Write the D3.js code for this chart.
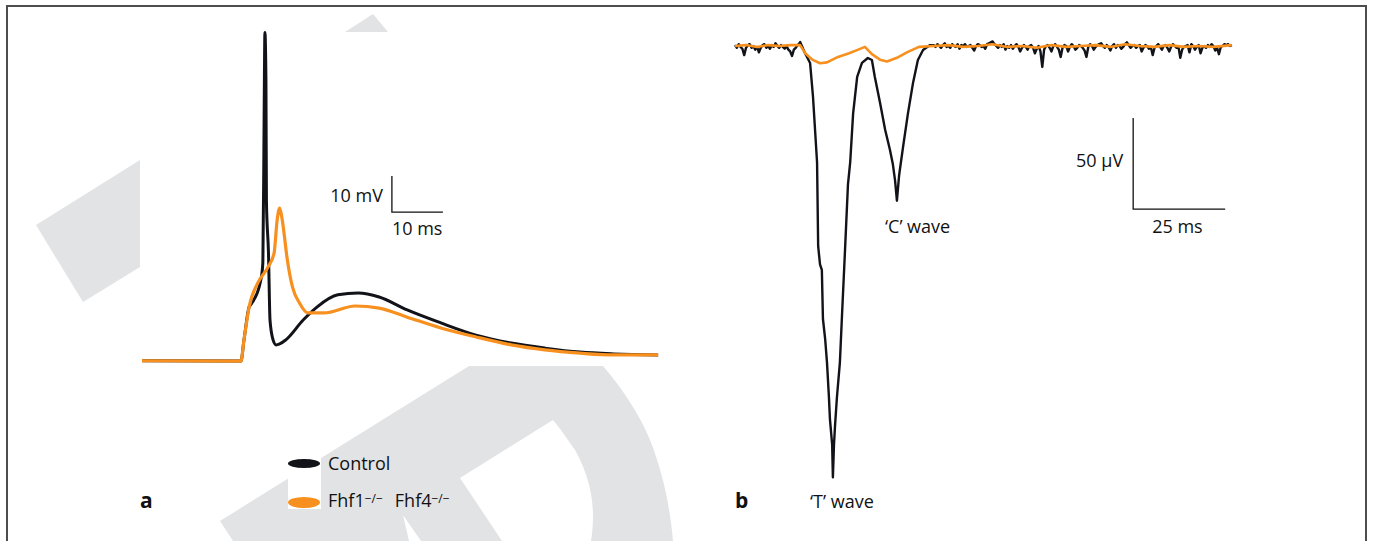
<!DOCTYPE html>
<meta charset="utf-8">
<style>
body { margin: 0; background: #fff; }
svg text { font-family: "Open Sans", sans-serif; fill: #111; }
</style>
<svg id="chart" width="1373" height="541"></svg>
<script src="https://cdn.jsdelivr.net/npm/d3@7/dist/d3.min.js"></script>
<script>

// ---- panel a : action potentials, ms vs mV above rest ----
var apCtrlT = [0, 19.4, 20, 21, 21.4, 23.4, 23.7, 23.9, 24, 24.1, 24.3, 24.4, 24.8, 25.1, 25.7, 26.3, 26.9, 28.2, 31.6, 34.3, 38.4, 42.4, 46.5, 52, 58.6, 65.5, 72.4, 79, 85.9, 92.5, 101.2];
var apCtrlV = [-0.2, -0.3, 5.6, 14.7, 15.5, 23, 27.2, 58, 78, 91, 78, 44, 29.7, 11.1, 5.6, 4.2, 4.4, 5.6, 11.1, 14.7, 18.1, 18.6, 17.5, 13.9, 10.3, 6.9, 4.7, 3.3, 2.2, 1.7, 1.4];

var apKoT = [0, 19.4, 20, 21, 22.7, 24.7, 25.9, 26.5, 27, 27.5, 28.5, 29.5, 30.9, 32.5, 35.7, 41.8, 46.5, 52, 58.6, 65.5, 72.4, 79, 85.9, 92.5, 101.2];
var apKoV = [-0.2, -0.3, 5.6, 14.7, 21.4, 25.8, 29.7, 38.9, 42.2, 38.9, 27.8, 20.3, 15.8, 13.1, 13.1, 15, 14.4, 11.9, 8.9, 6.4, 4.2, 2.8, 1.9, 1.4, 1.4];

// ---- panel b : field potentials, ms vs µV ----
// 0..17.5 ms, 0.5 ms apart
var ergCtrlHead = [0.5, -1, 1, -0.5, -1.5, -5, -1, 0.5, 1, -1, 0, -2, -0.5, -3.5, -1, 0.5, 1, -1, 0, -1.5,
  0.5, -0.5, 1.5, 0, -1, 0.5, -0.5, -1.5, 0, -2, -3, -5.5, -2, -1, 0.5, 1.5];
var ergCtrlWave = [
  [17.7, 2.2], [19, -3.8], [20.4, -9.3], [21.2, -28], [22.3, -64], [22.6, -110], [23.1, -120],
  [23.6, -123], [23.9, -150], [24.5, -161], [25, -174], [25.5, -192], [25.8, -205], [26.4, -219],
  [26.6, -237], [26.9, -219], [27.2, -208], [27.7, -193], [28.5, -174], [29.1, -147], [29.9, -112],
  [30.7, -76], [31.3, -64], [32.1, -37], [33.2, -17], [34.5, -9.3], [36.1, -6.6], [37.2, -7.7],
  [38, -17], [39.4, -31], [40.8, -46], [42.1, -57], [42.9, -65], [43.5, -74], [44, -85],
  [44.6, -71], [44.8, -68], [45.7, -55], [47, -37], [48.4, -20], [49.7, -7.7], [51.1, -2.2], [53, 0.5]
];
// 54..135 ms, 0.5 ms apart
var ergCtrlTail = [
  0.5, -0.5, 1, 0, -1, 0.5, 1.5, -0.5, 0, -1,
  1, 0, -0.5, 1, -1.5, 0.5, 0, 1, -0.5, 0,
  0.5, -1, -2.5, 0, 1, 0.5, -0.5, 0, -1.5, 1,
  1.5, 2, 2.5, 1, 0, -1, 0.5, -0.5, 1, -2,
  0, -1, 0.5, -1.5, 0, 1, -0.5, -3, -1, 0.5,
  -0.5, -2, 0, 0.5, -1, -4, -1.5, 0, -3, -11.5,
  -2, 0, 0.5, -1, -3, 0, 1, -0.5, -2, -6,
  -1, 0.5, 0, -3, -0.5, 1, 0, -2, -1, 0.5,
  0, -1, -2.5, -6, -0.5, 1, 0, -2, -0.5, 0.5,
  1, 1.5, 0, -1, 0.5, -0.5, -2.5, 0, 1, -1,
  0.5, 0, -1.5, -0.5, 1, 2, 0.5, -1, 0, 0.5,
  -1, 0, 0.5, -3, -1, 0.5, 0, -1.5, -0.5, -5,
  -1, 0, 1, -0.5, -2, 0, 0.5, -1, -3, -0.5,
  1, 0, -1, -0.5, -6.5, -2, -0.5, 0, 0.5, -3.5,
  1, 0, -2, -0.5, 0.5, -4, -1, 0, -1, 0.5,
  -0.5, 1, 0, -2.5, -1, -4.5, -0.5, 0, 1, 0.5,
  1, 0, 0.5
];
var ergKo = [
  [0, 0], [3, 0.5], [6, -0.5], [9, 0.5], [12, 0], [15, 0.5], [17.7, 0.5], [19, -3.8], [21, -7.5],
  [23.1, -9.5], [25, -9], [28, -6], [31, -4], [33.5, -2], [35.3, -0.5], [37.2, -4.5], [39.4, -7.5],
  [41.3, -8.5], [44, -6.5], [46.7, -3.5], [50, -0.5], [54, 0], [58, 0.5], [62, -0.5], [66, 0],
  [70, 1], [74, -0.5], [78, 0], [82, -1], [86, 0.5], [90, -0.5], [94, 0], [98, 0.5], [102, -0.5],
  [106, 1], [110, 0], [114, -0.5], [118, 0.5], [122, -0.5], [126, 0], [130, -0.5], [135, 0.5]
];

var black = "#121319", orange = "#f7901e", grey = "#e2e3e5";

var svg = d3.select("#chart");

// watermark behind the figure
var wm = svg.append("g");
wm.append("path").attr("fill", grey).attr("d", "M140,160L36,225L83,302L140,267Z");
wm.append("path").attr("fill", grey).attr("d", "M345,32L373,14L388,32Z");
wm.append("path").attr("fill", grey).attr("fill-rule", "evenodd")
  .attr("d", "M469,366L603,366C622,388 640,415 650,440C662,470 670,505 673,541L233,541L220,521Z" +
             "M553,420L460,478L502,541L591,541C596,510 592,480 575,450C568,440 560,428 553,420Z");
wm.append("path").attr("fill", "#fff").attr("d", "M403,515L421,541L409,541Z");
wm.append("rect").attr("fill", "#fff").attr("x", 288).attr("y", 456).attr("width", 33).attr("height", 53);

// frame
svg.append("path").attr("d", "M7,541L7,6L1366,6L1366,541")
  .attr("fill", "none").attr("stroke", "#4d4d4d").attr("stroke-width", 2);

// ---- panel a ----
var xa = d3.scaleLinear().domain([0, 10]).range([142, 193]);
var ya = d3.scaleLinear().domain([0, 10]).range([360, 324]);

var lineA = d3.line()
  .x(function(d) { return xa(d[0]); })
  .y(function(d) { return ya(d[1]); })
  .curve(d3.curveMonotoneX);

var ctrlA = d3.zip(apCtrlT, apCtrlV);
var koA = d3.zip(apKoT, apKoV);

svg.append("path").datum(ctrlA).attr("d", lineA)
  .attr("fill", "none").attr("stroke", black).attr("stroke-width", 3).attr("stroke-linejoin", "round");
svg.append("path").datum(koA).attr("d", lineA)
  .attr("fill", "none").attr("stroke", orange).attr("stroke-width", 3.2).attr("stroke-linejoin", "round");

// scale bar a (10 ms, 10 mV)
var sbA = [49, 41.1];
svg.append("path")
  .attr("d", "M" + xa(sbA[0]) + "," + ya(sbA[1] + 10) + "L" + xa(sbA[0]) + "," + ya(sbA[1]) + "L" + xa(sbA[0] + 10) + "," + ya(sbA[1]))
  .attr("fill", "none").attr("stroke", "#111").attr("stroke-width", 1.3);
svg.append("text").attr("x", xa(sbA[0]) - 9).attr("y", 201.5).attr("text-anchor", "end")
  .style("font-size", "18px").text("10 mV");
svg.append("text").attr("x", xa(sbA[0])).attr("y", 235)
  .style("font-size", "18px").text("10 ms");

// legend
svg.append("ellipse").attr("cx", 304).attr("cy", 463.5).attr("rx", 16).attr("ry", 4.5).attr("fill", black);
svg.append("ellipse").attr("cx", 304).attr("cy", 502.5).attr("rx", 16).attr("ry", 5.5).attr("fill", orange);
svg.append("text").attr("x", 328).attr("y", 469.5).style("font-size", "18px").text("Control");
var koLab = svg.append("text").attr("x", 328).attr("y", 507).style("font-size", "18px");
koLab.append("tspan").text("Fhf1");
koLab.append("tspan").attr("dy", -4).style("font-size", "12px").text("\u2212/\u2212");
koLab.append("tspan").attr("dy", 4).attr("dx", 12).text("Fhf4");
koLab.append("tspan").attr("dy", -4).style("font-size", "12px").text("\u2212/\u2212");

svg.append("text").attr("x", 140).attr("y", 508).style("font-size", "21px").style("font-weight", "bold").text("a");

// ---- panel b ----
var xb = d3.scaleLinear().domain([0, 25]).range([735, 827]);
var yb = d3.scaleLinear().domain([0, -50]).range([46, 137]);

var lineB = d3.line()
  .x(function(d) { return xb(d[0]); })
  .y(function(d) { return yb(d[1]); });

var ctrlB = ergCtrlHead.map(function(v, i) { return [i * 0.5, v]; })
  .concat(ergCtrlWave)
  .concat(ergCtrlTail.map(function(v, i) { return [54 + i * 0.5, v]; }));

svg.append("path").datum(ctrlB).attr("d", lineB)
  .attr("fill", "none").attr("stroke", black).attr("stroke-width", 2.4).attr("stroke-linejoin", "round");
svg.append("path").datum(ergKo).attr("d", lineB)
  .attr("fill", "none").attr("stroke", orange).attr("stroke-width", 2.6).attr("stroke-linejoin", "round");

// scale bar b (25 ms, 50 µV)
var sbB = [108.2, -89.6];
svg.append("path")
  .attr("d", "M" + xb(sbB[0]) + "," + yb(sbB[1] + 50) + "L" + xb(sbB[0]) + "," + yb(sbB[1]) + "L" + xb(sbB[0] + 25) + "," + yb(sbB[1]))
  .attr("fill", "none").attr("stroke", "#111").attr("stroke-width", 1.3);
svg.append("text").attr("x", xb(sbB[0]) - 10).attr("y", 167).attr("text-anchor", "end")
  .style("font-size", "18px").text("50 \u00b5V");
svg.append("text").attr("x", xb(sbB[0]) + 19).attr("y", 233)
  .style("font-size", "18px").text("25 ms");

svg.append("text").attr("x", 885).attr("y", 233).style("font-size", "18px").text("\u2018C\u2019 wave");
svg.append("text").attr("x", 810).attr("y", 508).style("font-size", "18px").text("\u2018T\u2019 wave");

svg.append("text").attr("x", 735).attr("y", 508).style("font-size", "21px").style("font-weight", "bold").text("b");

</script>
